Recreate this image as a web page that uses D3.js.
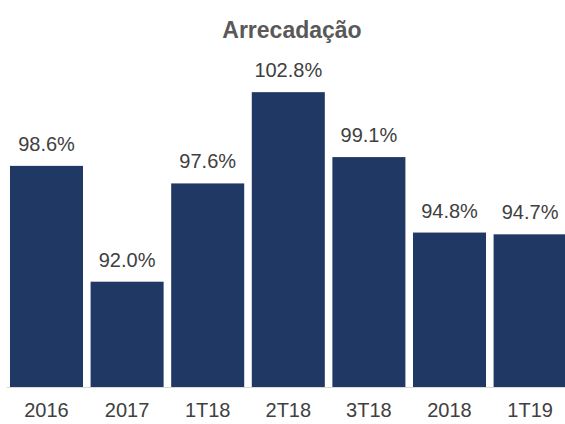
<!DOCTYPE html>
<html><head><meta charset="utf-8">
<script src="https://cdn.jsdelivr.net/npm/d3@7"></script>
<style>body{margin:0;background:#fff}svg{display:block}</style>
</head><body>
<script>
const categories = ["2016","2017","1T18","2T18","3T18","2018","1T19"];
const values = [98.6, 92.0, 97.6, 102.8, 99.1, 94.8, 94.7];
const labels = ["98.6%","92.0%","97.6%","102.8%","99.1%","94.8%","94.7%"];
const title = "Arrecadação";

const W = 565, H = 424;
const svg = d3.select("body").append("svg").attr("width", W).attr("height", H);

const x = d3.scaleBand().domain(categories).range([6.2, 570.4]).paddingInner(0.094).paddingOuter(0.047);
const y = d3.scaleLinear().domain([86, 104]).range([387, 387 - 18 * 17.55]);

svg.append("text").attr("x", 292).attr("y", 38).attr("text-anchor", "middle")
  .attr("font-family", "Liberation Sans, Arial, sans-serif").attr("font-weight", "bold")
  .attr("font-size", 23).attr("fill", "#595959").text(title);

svg.selectAll("rect.bar").data(values).join("rect").attr("class", "bar")
  .attr("x", (d, i) => x(categories[i]))
  .attr("width", x.bandwidth())
  .attr("y", d => y(d))
  .attr("height", d => y(86) - y(d))
  .attr("fill", "#203864");

svg.selectAll("text.lbl").data(values).join("text").attr("class", "lbl")
  .attr("x", (d, i) => x(categories[i]) + x.bandwidth() / 2)
  .attr("y", d => y(d) - 15)
  .attr("text-anchor", "middle")
  .attr("font-family", "Liberation Sans, Arial, sans-serif")
  .attr("font-size", 20).attr("fill", "#404040")
  .text((d, i) => labels[i]);

const axis = svg.append("g").attr("transform", `translate(0,${y(86)})`)
  .call(d3.axisBottom(x).tickSize(0).tickPadding(16));
axis.select(".domain").attr("stroke", "#d9d9d9").attr("stroke-width", 1.2);
axis.selectAll("text").attr("font-family", "Liberation Sans, Arial, sans-serif")
  .attr("font-size", 20).attr("fill", "#404040").attr("dy", "0.71em");
</script>
</body></html>
